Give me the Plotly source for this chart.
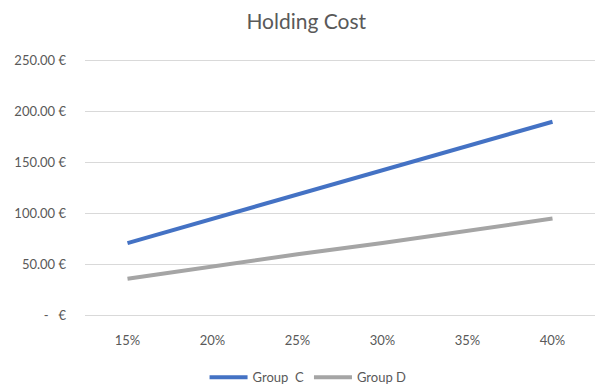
import plotly.graph_objects as go

rates = [15, 20, 25, 30, 35, 40]
rate_labels = ["15%", "20%", "25%", "30%", "35%", "40%"]
group_c = [71, 95, 119, 143, 166, 190]
group_d = [36, 48, 60, 71, 83, 95]
y_ticks = [0, 50, 100, 150, 200, 250]
y_labels = ["-   €", "50.00 €", "100.00 €", "150.00 €", "200.00 €", "250.00 €"]

font = "Lato, Open Sans, sans-serif"
fig = go.Figure()
fig.add_trace(go.Scatter(x=rates, y=group_c, mode="lines", name="Group  C",
                         line=dict(color="#4472C4", width=4)))
fig.add_trace(go.Scatter(x=rates, y=group_d, mode="lines", name="Group D",
                         line=dict(color="#A5A5A5", width=4)))

fig.update_layout(
    width=597, height=385,
    margin=dict(l=85, r=2, t=58, b=67, autoexpand=False),
    paper_bgcolor="white", plot_bgcolor="white",
    font=dict(family=font, color="#595959", size=13),
    title=dict(text="Holding Cost", x=0.513, xanchor="center", y=0.945, yanchor="middle",
               font=dict(size=21, color="#595959", family=font)),
    legend=dict(orientation="h", xref="container", x=0.516, xanchor="center",
                yref="container", y=0.02, yanchor="middle",
                font=dict(size=13, color="#595959"), itemwidth=38, tracegroupgap=0),
    showlegend=True,
)
fig.update_xaxes(range=[12.5, 42.5], tickvals=rates, ticktext=rate_labels,
                 showgrid=False, zeroline=False, showline=False, ticks="",
                 ticklabelstandoff=13,
                 tickfont=dict(size=13, color="#595959"))
fig.update_yaxes(range=[-2.5, 252.5], tickvals=y_ticks, ticktext=y_labels,
                 showgrid=True, gridcolor="#D9D9D9", gridwidth=1, zeroline=False,
                 showline=False, ticks="", ticklabelstandoff=18,
                 tickfont=dict(size=13, color="#595959"))
fig.write_html("out.html")
